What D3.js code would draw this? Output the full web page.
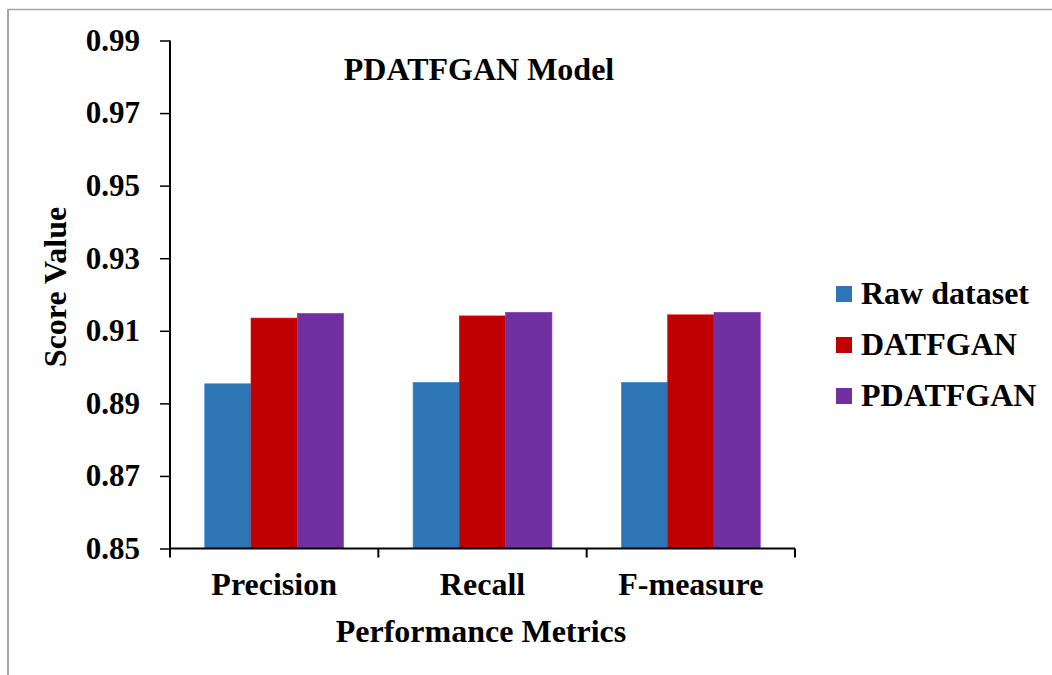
<!DOCTYPE html>
<html>
<head>
<meta charset="utf-8">
<script src="https://cdn.jsdelivr.net/npm/d3@7"></script>
<style>
  html, body { margin: 0; padding: 0; background: #fff; }
  svg { display: block; }
  text { font-family: "Liberation Serif", "Times New Roman", serif; font-weight: bold; fill: #000; }
</style>
</head>
<body>
<script>
const categories = ["Precision", "Recall", "F-measure"];
const seriesNames = ["Raw dataset", "DATFGAN", "PDATFGAN"];
const rawDataset = [0.8954, 0.8958, 0.8958];
const datfgan = [0.9135, 0.9141, 0.9144];
const pdatfgan = [0.9148, 0.9151, 0.9151];
const yTicks = [0.85, 0.87, 0.89, 0.91, 0.93, 0.95, 0.97, 0.99];
const colors = ["#2E75B6", "#C00000", "#7030A0"];

const seriesValues = [rawDataset, datfgan, pdatfgan];
const W = 1052, H = 675;
const svg = d3.select("body").append("svg").attr("width", W).attr("height", H);

// outer frame (top + left visible)
svg.append("line").attr("x1", 8).attr("x2", W).attr("y1", 9.5).attr("y2", 9.5)
  .attr("stroke", "#a6a6a6").attr("stroke-width", 1.5);
svg.append("line").attr("x1", 8).attr("x2", 8).attr("y1", 9).attr("y2", H)
  .attr("stroke", "#a6a6a6").attr("stroke-width", 2);

const x0 = d3.scaleBand().domain(categories).range([170, 795]).padding(0);
const x1 = d3.scaleBand().domain(seriesNames).range([0, x0.bandwidth()])
  .paddingInner(0).paddingOuter(0.75);
const y = d3.scaleLinear().domain([0.85, 0.99]).range([548.5, 40.5]);

// bars
const groups = svg.append("g").selectAll("g").data(categories).join("g")
  .attr("transform", d => `translate(${x0(d)},0)`);
groups.selectAll("rect")
  .data((c, ci) => seriesNames.map((s, si) => ({ s, si, v: seriesValues[si][ci] })))
  .join("rect")
  .attr("x", d => x1(d.s))
  .attr("width", x1.bandwidth())
  .attr("y", d => y(d.v))
  .attr("height", d => y(0.85) - y(d.v))
  .attr("fill", d => colors[d.si])
  .attr("stroke", d => d3.color(colors[d.si]).brighter(0.6))
  .attr("stroke-width", 0.6);

// y axis
const yAxis = d3.axisLeft(y).tickValues(yTicks).tickFormat(d3.format(".2f"))
  .tickSize(10).tickPadding(20);
const gy = svg.append("g").attr("transform", "translate(170,0)").call(yAxis);
gy.select(".domain").attr("stroke", "#000").attr("stroke-width", 2)
  .attr("d", `M0,${y(0.99)}V${y(0.85)}`);
gy.selectAll(".tick line").attr("stroke", "#000").attr("stroke-width", 1.5);
gy.selectAll(".tick text").style("font-size", "31px")
  .style("font-family", "'Liberation Serif', serif").style("font-weight", "bold")
  .attr("fill", "#000");

// x axis
const xAxis = d3.axisBottom(x0).tickSize(0).tickPadding(24);
const gx = svg.append("g").attr("transform", `translate(0,${y(0.85)})`).call(xAxis);
gx.select(".domain").attr("stroke", "#000").attr("stroke-width", 2)
  .attr("d", "M170,0H795");
gx.selectAll(".tick text").style("font-size", "32px")
  .style("font-family", "'Liberation Serif', serif").style("font-weight", "bold")
  .attr("fill", "#000");
// boundary tick marks
const bounds = categories.map(c => x0(c)).concat([x0(categories[categories.length - 1]) + x0.bandwidth()]);
gx.selectAll(".bound").data(bounds).join("line")
  .attr("x1", d => d).attr("x2", d => d).attr("y1", 0).attr("y2", 9)
  .attr("stroke", "#000").attr("stroke-width", 2);

// titles
svg.append("text").attr("x", 479).attr("y", 80).attr("text-anchor", "middle")
  .style("font-size", "32px").text("PDATFGAN Model");
svg.append("text").attr("x", 481).attr("y", 642).attr("text-anchor", "middle")
  .style("font-size", "32px").text("Performance Metrics");
svg.append("text").attr("transform", "translate(66,287) rotate(-90)")
  .attr("text-anchor", "middle").style("font-size", "32px").text("Score Value");

// legend
const leg = svg.append("g").selectAll("g").data(seriesNames).join("g")
  .attr("transform", (d, i) => `translate(836,${294 + i * 51})`);
leg.append("rect").attr("x", 0).attr("y", -8).attr("width", 16).attr("height", 16)
  .attr("fill", (d, i) => colors[i]);
leg.append("text").attr("x", 25).attr("y", 10).style("font-size", "32px").text(d => d);
</script>
</body>
</html>
